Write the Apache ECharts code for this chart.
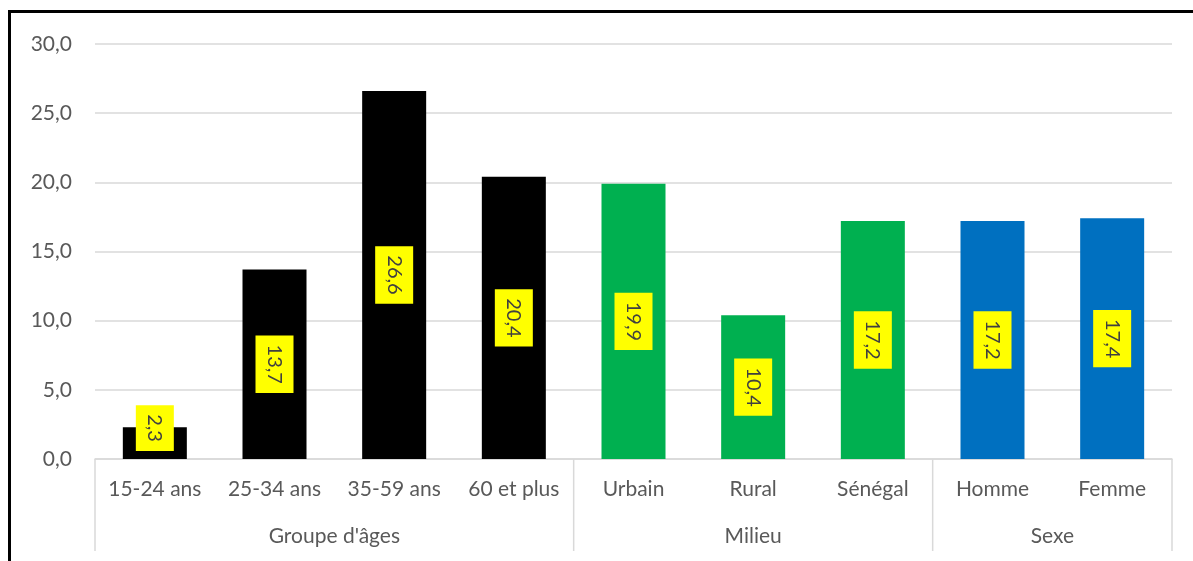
<!DOCTYPE html>
<html>
<head>
<meta charset="utf-8">
<script src="https://cdn.jsdelivr.net/npm/echarts@6/dist/echarts.min.js"></script>
<style>
  html, body { margin: 0; padding: 0; background: #fff; }
  #chart { width: 1193px; height: 561px; position: relative; }
  #frame { position: absolute; left: 8px; top: 10px; width: 1200px; height: 600px;
           border-left: 3px solid #000; border-top: 3px solid #000; pointer-events: none; }
</style>
</head>
<body>
<div id="chart"></div>
<div id="frame"></div>
<script>
// Categories, grouped by breakdown
const categories = ['15-24 ans', '25-34 ans', '35-59 ans', '60 et plus', 'Urbain', 'Rural', 'Sénégal', 'Homme', 'Femme'];
const values = [2.3, 13.7, 26.6, 20.4, 19.9, 10.4, 17.2, 17.2, 17.4];
const groupNames = ["Groupe d'âges", 'Milieu', 'Sexe'];
const groupStart = [0, 4, 7];
const groupEnd = [3, 6, 8];
const groupColors = ['#000000', '#00B050', '#0070C0'];
const yTicks = [0, 5, 10, 15, 20, 25, 30];

const FONT = 'Lato';

function colorFor(i) {
  for (let g = 0; g < groupStart.length; g++) {
    if (i >= groupStart[g] && i <= groupEnd[g]) return groupColors[g];
  }
  return '#000';
}

const barData = values.map((v, i) => {
  const item = { value: v, itemStyle: { color: colorFor(i) } };
  if (v < 5) item.label = { offset: [-15, 0] };
  return item;
});

const groupData = groupNames.map((n, g) => [groupStart[g], groupEnd[g], 0]);

const chart = echarts.init(document.getElementById('chart'), null, { renderer: 'canvas' });
chart.setOption({
  animation: false,
  backgroundColor: '#fff',
  grid: { left: 95, right: 21, top: 44, bottom: 102 },
  xAxis: {
    type: 'category',
    data: categories,
    axisLine: { lineStyle: { color: '#d9d9d9', width: 1.5 } },
    axisTick: { show: false },
    axisLabel: { color: '#595959', fontFamily: FONT, fontSize: 21, margin: 20, interval: 0 }
  },
  yAxis: {
    type: 'value',
    min: yTicks[0],
    max: yTicks[yTicks.length - 1],
    interval: 5,
    axisLine: { show: false },
    axisTick: { show: false },
    splitLine: { lineStyle: { color: '#d9d9d9', width: 1.5 } },
    axisLabel: {
      color: '#595959', fontFamily: FONT, fontSize: 21, margin: 23,
      formatter: v => v.toFixed(1).replace('.', ',')
    }
  },
  series: [
    {
      type: 'bar',
      data: barData,
      barWidth: 64,
      label: {
        show: true,
        position: 'inside',
        rotate: -90,
        formatter: p => p.value.toFixed(1).replace('.', ','),
        color: '#404040',
        fontFamily: FONT,
        fontSize: 20,
        lineHeight: 22,
        backgroundColor: '#FFFF00',
        padding: [8, 9]
      }
    },
    {
      // Group separators and group titles below the category labels
      type: 'custom',
      clip: false,
      silent: true,
      encode: { x: 0, y: 2 },
      data: groupData,
      renderItem: (params, api) => {
        const a = api.coord([api.value(0), 0]);
        const b = api.coord([api.value(1), 0]);
        const bw = api.size([1, 0])[0];
        const left = a[0] - bw / 2;
        const right = b[0] + bw / 2;
        const y0 = a[1];
        const children = [
          { type: 'line', shape: { x1: left, y1: y0, x2: left, y2: y0 + 92 },
            style: { stroke: '#d9d9d9', lineWidth: 1.5 } },
          { type: 'text', x: (left + right) / 2, y: y0 + 77,
            style: { text: groupNames[params.dataIndex], fill: '#595959', font: '21px ' + FONT,
                     align: 'center', verticalAlign: 'middle' } }
        ];
        if (params.dataIndex === groupNames.length - 1) {
          children.push({ type: 'line', shape: { x1: right, y1: y0, x2: right, y2: y0 + 92 },
            style: { stroke: '#d9d9d9', lineWidth: 1.5 } });
        }
        return { type: 'group', children };
      }
    }
  ]
});
</script>
</body>
</html>
